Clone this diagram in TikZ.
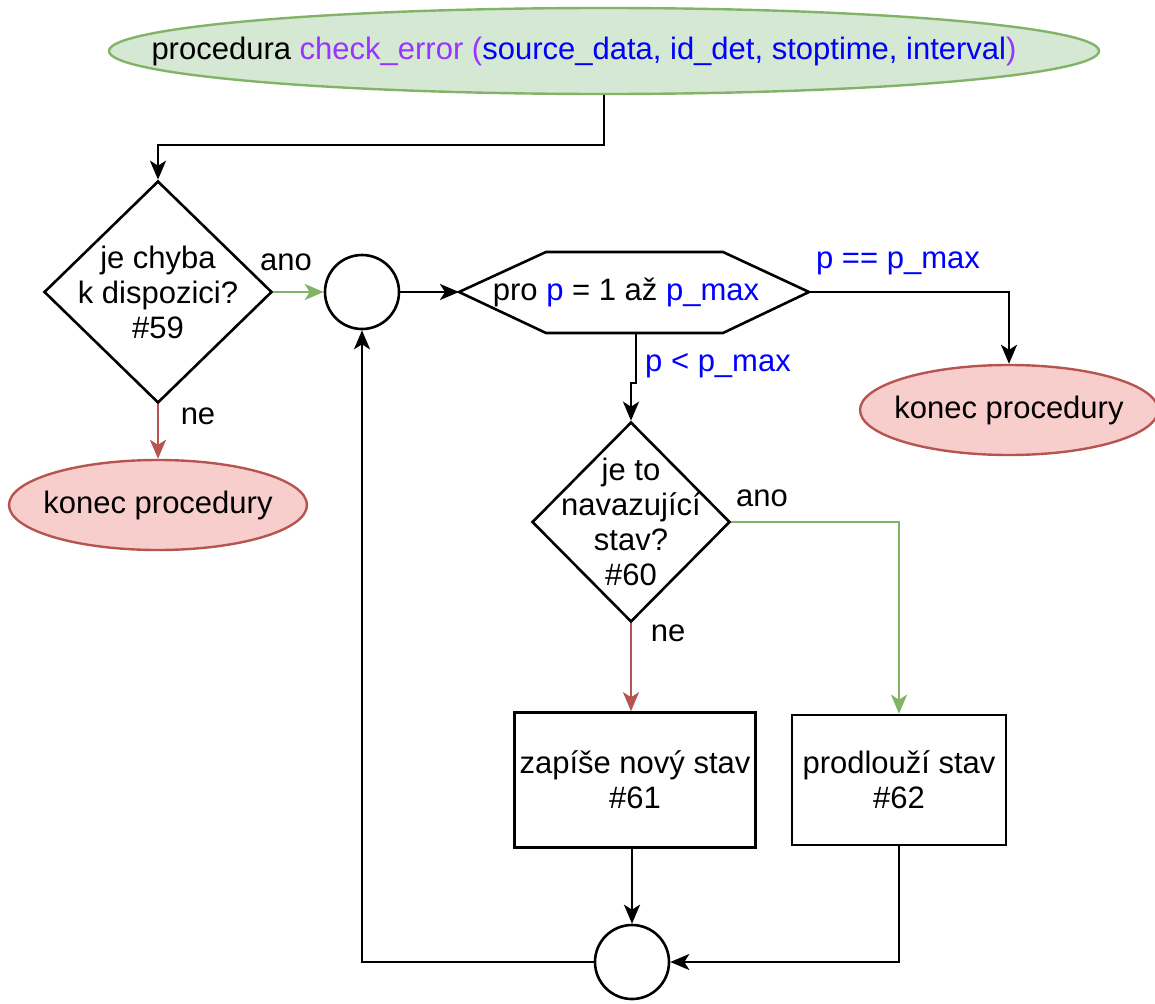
\documentclass[tikz,border=0pt]{standalone}
\usepackage{fontspec}
\setmainfont{Liberation Sans}
\usetikzlibrary{shapes.geometric,arrows.meta,calc}
\definecolor{gfill}{HTML}{D5E8D4}
\definecolor{gline}{HTML}{82B366}
\definecolor{rfill}{HTML}{F8CECC}
\definecolor{rline}{HTML}{B85450}
\definecolor{pblue}{HTML}{0000FF}
\definecolor{ppurp}{HTML}{9933FF}
\begin{document}
\begin{tikzpicture}[x=1pt,y=-1pt,
  txt/.style={font=\fontsize{31}{35}\selectfont, align=center, inner sep=0pt},
  startnode/.style={ellipse, draw=gline, fill=gfill, line width=2.4pt, minimum width=990pt, minimum height=86pt, inner sep=0pt},
  endnode/.style={ellipse, draw=rline, fill=rfill, line width=2.4pt, minimum width=298pt, minimum height=90pt, inner sep=0pt},
  decision/.style={diamond, draw, line width=2.6pt, inner sep=0pt},
  proc/.style={rectangle, draw, line width=2.6pt, inner sep=0pt, txt},
  junction/.style={circle, draw, line width=2.6pt, minimum size=74pt, inner sep=0pt},
  conn/.style={line width=2.6pt, -{Stealth[length=19pt,width=16pt,inset=5pt]}},
  plain/.style={line width=2.6pt},
  yes/.style={conn, draw=gline, -{Stealth[length=19pt,width=16pt,inset=5pt,fill=gline]}},
  no/.style={conn, draw=rline, -{Stealth[length=19pt,width=16pt,inset=5pt,fill=rline]}},
  lbl/.style={font=\fontsize{31}{35}\selectfont, inner sep=0pt}
]
\useasboundingbox (0,0) rectangle (1155,1003);

% start
\node[startnode] (start) at (604,51) {};
\node[txt] (startt) at (584,51) {procedura {\color{ppurp}check\_error (}{\color{pblue}source\_data, id\_det, stoptime, interval}{\color{ppurp})}};

% decision 1
\node[decision, minimum width=228pt, minimum height=222pt] (d1) at (158,292) {};
\node[txt] (d1t) at (158,292) {je chyba\\k dispozici?\\\#59};

% end left
\node[endnode] (endl) at (158,505) {};
\node[txt] (endlt) at (158,505) {konec procedury};

% junction 1
\node[junction] (j1) at (362,292) {};

% hexagon (loop)
\coordinate (hw) at (459,292);
\coordinate (hnw) at (546,252);
\coordinate (hne) at (723,252);
\coordinate (he) at (809,292);
\coordinate (hse) at (723,333);
\coordinate (hsw) at (546,333);
\coordinate (hs) at (636,333);
\draw[plain, line join=miter] (hw) -- (hnw) -- (hne) -- (he) -- (hse) -- (hsw) -- cycle;
\node[txt] (loop) at (626,292) {pro {\color{pblue}p} = 1 až {\color{pblue}p\_max}};

% end right
\node[endnode] (endr) at (1009,410) {};
\node[txt] (endrt) at (1009,410) {konec procedury};

% decision 2
\node[decision, minimum width=198pt, minimum height=200pt] (d2) at (631,522) {};
\node[txt] (d2t) at (631,522) {je to\\navazující\\stav?\\\#60};

% process boxes
\node[proc, minimum width=241pt, minimum height=135pt] (p1) at (635,780) {zapíše nový stav\\\#61};
\node[proc, minimum width=214pt, minimum height=130pt] (p2) at (899,780) {prodlouží stav\\\#62};

% junction 2
\node[junction] (j2) at (632,962) {};

% connectors
\draw[conn] (start.south) -- (604,145) -| (d1.north);
\draw[yes] (d1.east) -- (j1.west);
\node[lbl] (ano1) at (286,262) {ano};
\draw[no] (d1.south) -- (endl.north);
\node[lbl] (ne1) at (198,416) {ne};
\draw[conn] (j1.east) -- (hw);
\draw[conn] (he) -| (endr.north);
\node[lbl, text=pblue] (eqlbl) at (898,263) {p == p\_max};
\draw[conn] (hs) -- (636,383) -- (631,383) -- (d2.north);
\node[lbl, text=pblue, anchor=west] (ltlbl) at (645,366) {p < p\_max};
\draw[yes] (d2.east) -| (p2.north);
\node[lbl] (ano2) at (762,498) {ano};
\draw[no] (d2.south) -- (d2.south |- p1.north);
\node[lbl] (ne2) at (668,633) {ne};
\draw[conn] (p1.south -| j2.north) -- (j2.north);
\draw[conn] (p2.south) |- (j2.east);
\draw[conn] (j2.west) -| (j1.south);
\end{tikzpicture}
\end{document}
